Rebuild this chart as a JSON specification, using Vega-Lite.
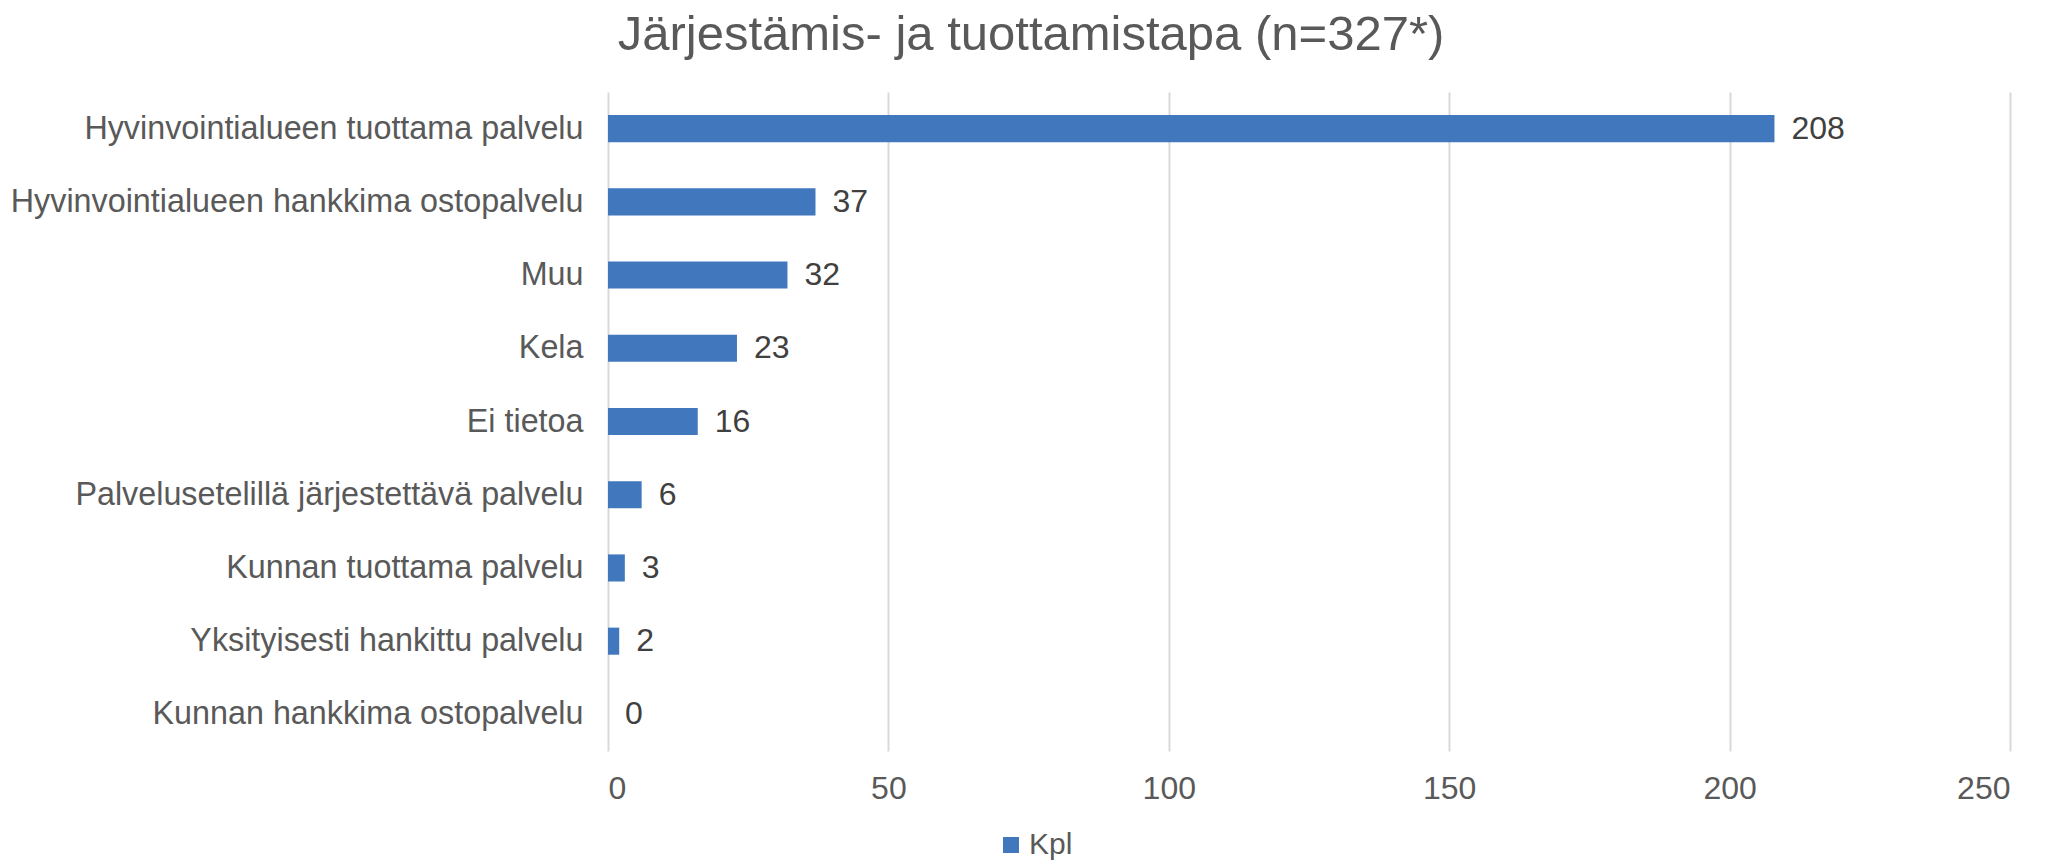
{
  "$schema": "https://vega.github.io/schema/vega-lite/v6.json",
  "width": 1402,
  "height": 659,
  "autosize": {"type": "none"},
  "padding": {"left": 608, "top": 92, "right": 46, "bottom": 115},
  "background": "white",
  "config": {
    "view": {"stroke": null},
    "font": "Liberation Sans"
  },
  "title": {
    "text": "Järjestämis- ja tuottamistapa (n=327*)",
    "fontSize": 49,
    "font": "Liberation Sans",
    "fontWeight": "normal",
    "color": "#595959",
    "anchor": "middle",
    "dx": -278,
    "offset": 32
  },
  "data": {
    "values": [
      {"category": "Hyvinvointialueen tuottama palvelu", "value": 208, "series": "Kpl"},
      {"category": "Hyvinvointialueen hankkima ostopalvelu", "value": 37, "series": "Kpl"},
      {"category": "Muu", "value": 32, "series": "Kpl"},
      {"category": "Kela", "value": 23, "series": "Kpl"},
      {"category": "Ei tietoa", "value": 16, "series": "Kpl"},
      {"category": "Palvelusetelillä järjestettävä palvelu", "value": 6, "series": "Kpl"},
      {"category": "Kunnan tuottama palvelu", "value": 3, "series": "Kpl"},
      {"category": "Yksityisesti hankittu palvelu", "value": 2, "series": "Kpl"},
      {"category": "Kunnan hankkima ostopalvelu", "value": 0, "series": "Kpl"}
    ]
  },
  "encoding": {
    "y": {
      "field": "category",
      "type": "nominal",
      "sort": null,
      "scale": {"paddingInner": 0.63, "paddingOuter": 0.315},
      "axis": {
        "title": null,
        "domain": false,
        "ticks": false,
        "labelFontSize": 32.3,
        "labelColor": "#595959",
        "labelPadding": 25,
        "labelLimit": 800,
        "grid": false
      }
    },
    "x": {
      "field": "value",
      "type": "quantitative",
      "scale": {"domain": [0, 250], "nice": false},
      "axis": {
        "title": null,
        "values": [0, 50, 100, 150, 200, 250],
        "grid": true,
        "gridColor": "#d9d9d9",
        "gridWidth": 2,
        "domain": false,
        "ticks": false,
        "labelFontSize": 32,
        "labelColor": "#595959",
        "labelPadding": 22
      }
    }
  },
  "layer": [
    {
      "mark": {"type": "bar"},
      "encoding": {
        "color": {
          "field": "series",
          "type": "nominal",
          "scale": {"range": ["#4177BD"]},
          "legend": {
            "title": null,
            "orient": "none",
            "legendX": 388,
            "legendY": 738,
            "direction": "horizontal",
            "symbolType": "square",
            "symbolSize": 256,
            "symbolStrokeWidth": 0,
            "labelFontSize": 30,
            "labelColor": "#595959",
            "labelOffset": 3,
            "padding": 0
          }
        }
      }
    },
    {
      "mark": {"type": "text", "align": "left", "baseline": "middle", "dx": 17, "fontSize": 32, "color": "#404040"},
      "encoding": {
        "text": {"field": "value", "type": "quantitative"}
      }
    }
  ]
}
